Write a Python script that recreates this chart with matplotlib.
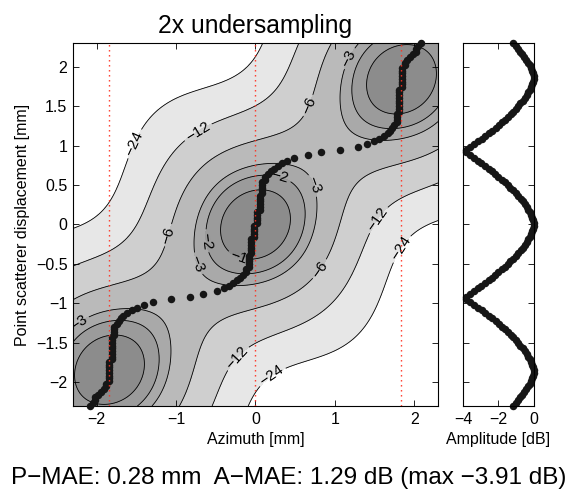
import numpy as np
import matplotlib
matplotlib.use("Agg")
import matplotlib.pyplot as plt

plt.rcParams['font.family'] = ['Liberation Sans', 'DejaVu Sans']
plt.rcParams['lines.scale_dashes'] = False

# Acquisition geometry: lines acquired every 1.84 mm (2x undersampled)
line_spacing = 1.84
line_positions = [-1.84, 0.0, 1.84]
beam_falloff_db = 5.3      # Gaussian lateral beam profile, dB per mm^2
kernel_taper = 0.838       # Gaussian taper of the sinc interpolator (in line spacings)

contour_levels = [-24, -12, -6, -3, -2, -1]
band_bounds = [-400, -24, -12, -6, -3, -2, -1, 1]
band_colors = ['#ffffff', '#e7e7e7', '#cfcfcf', '#bababa', '#a9a9a9', '#9b9b9b', '#8c8c8c']
level_text = {-24: '\u221224', -12: '\u221212', -6: '\u22126',
              -3: '\u22123', -2: '\u22122', -1: '\u22121'}
label_spots = {
    -24: [(-1.63, 1.07), (1.84, -0.31), (0.20, -1.91)],
    -12: [(-0.71, 1.15), (1.56, 0.05), (-0.24, -1.68)],
    -6: [(0.66, 1.51), (-1.12, -0.13), (0.82, -0.57)],
    -3: [(1.19, 2.10), (0.75, 0.50), (-0.77, -0.51), (-2.25, -1.21)],
    -2: [(0.30, 0.57), (-0.64, -0.21)],
    -1: [(-0.21, -0.41)],
}

# Point scatterer displacements that were simulated
displacement = np.linspace(-2.294, 2.294, 134)

# Estimated peak azimuth for each displacement [mm]
peak_azimuth = [
    -2.087, -2.053, -2.018, -2.018, -1.984, -1.949, -1.915, -1.880, -1.880,
    -1.846, -1.846, -1.846, -1.846, -1.846, -1.846, -1.846, -1.846,
    -1.811, -1.811, -1.811, -1.811, -1.811, -1.811, -1.811, -1.811, -1.811,
    -1.777, -1.777, -1.777, -1.777, -1.742,
    -1.725, -1.70, -1.67, -1.62, -1.56, -1.49, -1.40, -1.29, -1.06,
    -0.83, -0.66, -0.49, -0.40, -0.34, -0.28, -0.23, -0.19, -0.155,
    -0.121, -0.121,
    -0.086, -0.086, -0.086, -0.086, -0.086,
    -0.052, -0.052, -0.052, -0.052, -0.052, -0.052,
    -0.017, -0.017, -0.017, -0.017, -0.017,
    0.017, 0.017, 0.017, 0.017, 0.017,
    0.052, 0.052, 0.052, 0.052, 0.052, 0.052,
    0.086, 0.086, 0.086, 0.086, 0.086,
    0.121, 0.121,
    0.155, 0.19, 0.23, 0.28, 0.34, 0.40, 0.49, 0.66, 0.83,
    1.06, 1.29, 1.40, 1.49, 1.56, 1.62, 1.67, 1.70, 1.725,
    1.742, 1.777, 1.777, 1.777, 1.777,
    1.811, 1.811, 1.811, 1.811, 1.811, 1.811, 1.811, 1.811, 1.811,
    1.846, 1.846, 1.846, 1.846, 1.846, 1.846, 1.846, 1.846,
    1.880, 1.880, 1.915, 1.949, 1.984, 2.018, 2.018, 2.053, 2.087,
]

# Peak amplitude for each displacement [dB]
peak_amplitude_db = [
    -1.18, -1.04, -0.91, -0.78, -0.65, -0.54, -0.43, -0.34, -0.25,
    -0.17, -0.10, -0.05, -0.01, -0.01, -0.04, -0.09, -0.16,
    -0.24, -0.32, -0.42, -0.53, -0.64, -0.77, -0.89, -1.03, -1.17,
    -1.32, -1.48, -1.64, -1.81, -1.98,
    -2.16, -2.35, -2.54, -2.74, -2.94, -3.15, -3.36, -3.58, -3.83,
    -3.85, -3.60, -3.38, -3.17, -2.96, -2.76, -2.56, -2.37, -2.18,
    -2.00, -1.82,
    -1.65, -1.48, -1.33, -1.17, -1.03,
    -0.89, -0.76, -0.63, -0.52, -0.41, -0.32,
    -0.23, -0.15, -0.09, -0.04, -0.01,
    -0.01, -0.04, -0.09, -0.15, -0.23,
    -0.32, -0.41, -0.52, -0.63, -0.76, -0.89,
    -1.03, -1.17, -1.33, -1.48, -1.65,
    -1.82, -2.00,
    -2.18, -2.37, -2.56, -2.76, -2.96, -3.17, -3.38, -3.60, -3.85,
    -3.83, -3.58, -3.36, -3.15, -2.94, -2.74, -2.54, -2.35, -2.16,
    -1.98, -1.81, -1.64, -1.48, -1.32,
    -1.17, -1.03, -0.89, -0.77, -0.64, -0.53, -0.42, -0.32, -0.24,
    -0.16, -0.09, -0.04, -0.01, -0.01, -0.05, -0.10, -0.17,
    -0.25, -0.34, -0.43, -0.54, -0.65, -0.78, -0.91, -1.04, -1.18,
]

# Interpolated image of the point scatterer as a function of displacement
az = np.linspace(-2.3, 2.3, 461)
dsp = np.linspace(-2.3, 2.3, 461)
AZ, DS = np.meshgrid(az, dsp)
image = np.zeros_like(AZ)
for n in range(-4, 5):
    xn = n * line_spacing
    line_sample = 10 ** (-beam_falloff_db * (xn - DS) ** 2 / 20)
    u = (AZ - xn) / line_spacing
    kernel = np.sinc(u) * np.exp(-u ** 2 / (2 * kernel_taper ** 2))
    image += line_sample * kernel
image_db = 20 * np.log10(np.maximum(np.abs(image) / np.abs(image).max(), 1e-12))

fig = plt.figure(figsize=(5.77, 5.01), dpi=100)
ax = fig.add_axes([0.1265, 0.1896, 0.6326, 0.7246])
ax2 = fig.add_axes([0.8024, 0.1896, 0.1231, 0.7246])

ax.contourf(AZ, DS, image_db, levels=band_bounds, colors=band_colors)
for lev in contour_levels:
    cs = ax.contour(AZ, DS, image_db, levels=[lev], colors='k',
                    linewidths=0.6, linestyles='solid')
    ax.clabel(cs, fmt=level_text, fontsize=11, inline=True,
              inline_spacing=3, manual=label_spots[lev])

ax.plot(peak_azimuth, displacement, 'o', color='#161616', markersize=5.4,
        markeredgewidth=0, clip_on=False, zorder=4)
for xn in line_positions:
    ax.axvline(xn, color='#ff3020', linewidth=1.0, linestyle=(0, (1.0, 2.6)), zorder=5)

ax.set_xlim(-2.3, 2.3)
ax.set_ylim(-2.3, 2.3)
ax.set_xticks([-2, -1, 0, 1, 2])
ax.set_yticks([-2, -1.5, -1, -0.5, 0, 0.5, 1, 1.5, 2])
ax.set_yticklabels(['\u22122', '\u22121.5', '\u22121', '\u22120.5', '0', '0.5', '1', '1.5', '2'])
ax.set_xticklabels(['\u22122', '\u22121', '0', '1', '2'])
ax.set_xlabel('Azimuth [mm]', fontsize=11.5)
ax.set_ylabel('Point scatterer displacement [mm]', fontsize=11.5)
ax.set_title('2x undersampling', fontsize=17.7, pad=7)

ax2.plot(peak_amplitude_db, displacement, 'o', color='#161616', markersize=5.4,
         markeredgewidth=0, clip_on=False)
ax2.set_xlim(-4, 0)
ax2.set_ylim(-2.3, 2.3)
ax2.set_xticks([-4, -2, 0])
ax2.set_xticklabels(['\u22124', '\u22122', '0'])
ax2.set_yticks([-2, -1.5, -1, -0.5, 0, 0.5, 1, 1.5, 2])
ax2.set_yticklabels([])
ax2.set_xlabel('Amplitude [dB]', fontsize=11.5)

for a in (ax, ax2):
    a.tick_params(direction='in', top=True, right=True, length=4, width=0.6,
                  labelsize=11.5, pad=4)
    for s in a.spines.values():
        s.set_linewidth(0.8)

fig.text(0.5, 0.046, 'P\u2212MAE: 0.28 mm  A\u2212MAE: 1.29 dB (max \u22123.91 dB)',
         ha='center', va='center', fontsize=17.5)

fig.savefig('out.png', dpi=100)
